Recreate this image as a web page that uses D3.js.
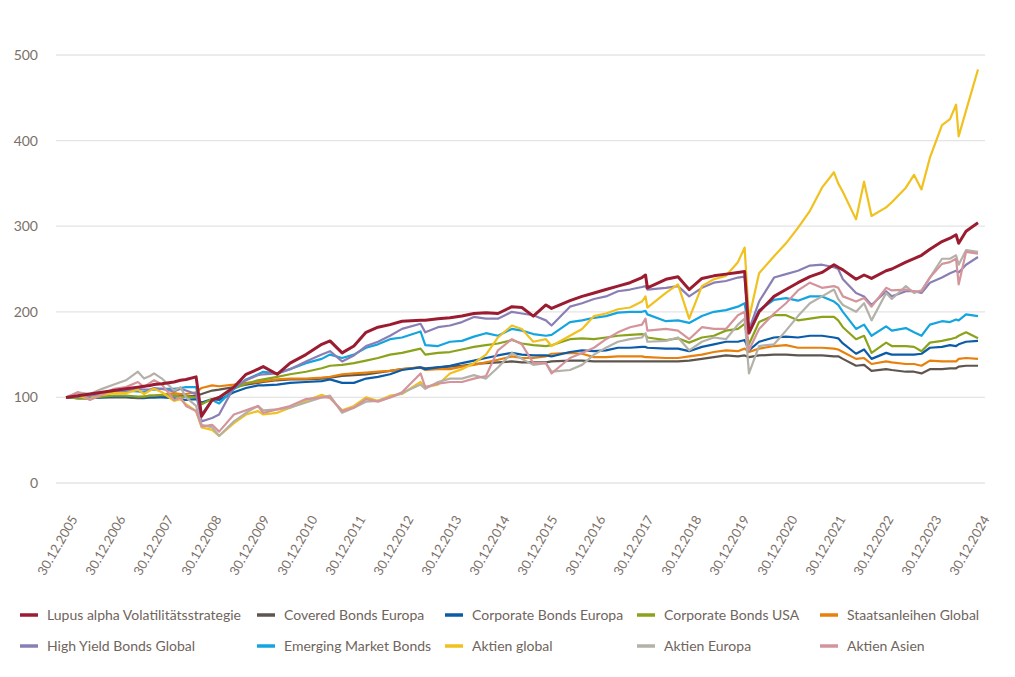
<!DOCTYPE html>
<html><head><meta charset="utf-8">
<script src="https://cdn.jsdelivr.net/npm/d3@7"></script>
<style>
html,body{margin:0;padding:0;background:#fff;}
svg{display:block;font-family:Lato,"Open Sans",sans-serif;}
</style></head>
<body><svg id="c" width="1015" height="677"></svg>
<script>
const dates = ["2005-12-30","2006-03-31","2006-06-30","2006-09-30","2006-12-30","2007-03-31","2007-06-30","2007-08-16","2007-09-30","2007-10-31",
"2007-12-30","2008-03-31","2008-05-19","2008-06-30","2008-09-15","2008-10-27","2009-01-15","2009-03-09","2009-06-30","2009-09-30",
"2009-12-30","2010-02-08","2010-05-25","2010-08-31","2010-12-30","2011-04-29","2011-07-01","2011-10-01","2011-12-30","2012-03-31",
"2012-06-30","2012-09-30","2012-12-30","2013-05-20","2013-06-25","2013-09-30","2013-12-30","2014-03-31","2014-06-30","2014-09-30",
"2014-12-30","2015-04-15","2015-06-30","2015-09-25","2015-12-30","2016-02-11","2016-06-30","2016-09-30","2016-12-30","2017-03-31",
"2017-06-30","2017-09-30","2017-12-30","2018-01-26","2018-02-09","2018-06-30","2018-09-30","2018-12-24","2019-03-31","2019-06-30",
"2019-09-30","2019-12-30","2020-02-19","2020-03-23","2020-06-08","2020-09-30","2020-12-30","2021-03-31","2021-06-30","2021-09-30",
"2021-12-30","2022-01-31","2022-03-08","2022-06-16","2022-08-16","2022-10-12","2023-01-31","2023-03-15","2023-06-30","2023-08-31",
"2023-10-27","2023-12-30","2024-03-31","2024-05-31","2024-07-16","2024-08-05","2024-09-30","2024-12-30"];

const seriesNames = ["Lupus alpha Volatilitätsstrategie","Covered Bonds Europa","Corporate Bonds Europa","Corporate Bonds USA","Staatsanleihen Global","High Yield Bonds Global","Emerging Market Bonds","Aktien global","Aktien Europa","Aktien Asien"];
const seriesColors = ["#9b1c31","#5e554e","#0b5ca8","#8ba31b","#e8800c","#8a7fb4","#14a4df","#f0c11f","#b4b1a9","#d3949c"];

const lupus    = [100,102,104,106,108,110,112,113,114,115, 116,118,120,121,124,78,97,100,112,127, 133,136,127,140,150,162,166,152,160,176, 182,185,189,190,190,192,193,195,198,199, 198,206,205,195,208,204,213,218,222,226, 230,234,240,243,228,238,241,226,239,242, 244,246,247,175,200,218,226,234,241,246, 255,252,249,238,243,239,248,250,258,262, 266,273,282,286,290,280,294,304];
const covered  = [100,99,99,100,100,100,99,99,100,100, 101,102,102,101,102,104,108,109,112,115, 117,118,120,121,121,122,123,125,126,127, 129,131,133,135,134,135,136,137,139,140, 141,142,141,141,141,142,143,143,142,142, 142,142,142,142,142,142,142,143,145,147, 149,148,149,147,149,150,150,149,149,149, 148,148,145,137,138,131,133,132,130,130, 128,133,133,134,134,136,137,137];
const corpEur  = [100,99,99,100,101,101,100,100,100,100, 100,99,98,97,98,94,98,97,106,111, 114,114,115,117,118,119,121,117,117,122, 124,127,132,135,133,135,137,140,143,146, 149,152,150,149,149,148,153,155,154,155, 158,158,159,159,158,157,157,154,159,162, 165,165,167,155,165,170,171,170,172,172, 170,169,163,151,156,145,152,150,150,150, 151,158,159,161,160,162,165,166];
const corpUsa  = [100,99,99,101,102,102,101,101,102,102, 103,102,101,101,100,92,98,100,110,116, 120,121,124,127,130,134,137,138,140,143, 146,150,152,157,150,152,153,156,159,161, 163,167,163,161,160,161,168,169,168,170, 172,173,174,173,170,167,169,164,170,172, 178,180,186,162,188,196,196,190,192,194, 194,190,182,168,172,152,164,160,160,159, 154,164,166,168,170,172,176,169];
const govGlob  = [100,99,99,101,101,101,100,101,102,102, 103,105,104,104,106,111,114,113,115,117, 118,119,121,122,122,123,124,127,128,129, 130,131,133,135,132,133,133,136,138,141, 144,148,146,146,148,151,152,151,147,147, 148,148,148,147,147,146,146,148,150,153, 155,154,157,153,157,160,161,158,158,158, 157,156,153,145,146,139,142,141,139,139, 137,143,142,142,142,145,146,145];
const highYield= [100,101,102,104,106,108,110,109,109,111, 110,107,110,108,104,72,76,80,112,120, 126,127,128,133,142,150,154,142,149,160, 165,172,180,186,176,182,184,188,194,192, 192,200,198,196,190,184,206,210,215,218, 224,226,229,230,226,228,230,218,228,234, 236,240,241,179,212,240,244,248,254,255, 252,250,238,222,218,208,224,218,224,224, 222,234,240,245,248,246,255,264];
const emBonds  = [100,101,102,104,106,108,107,106,109,109, 110,110,111,112,112,80,97,93,110,121, 127,130,128,133,140,145,150,146,150,158, 162,168,170,177,161,160,165,166,171,175, 172,180,178,174,172,173,188,190,193,195, 199,200,200,201,197,189,190,187,195,200, 202,206,210,178,202,214,216,213,218,218, 212,208,200,180,185,172,183,178,181,176, 172,185,189,188,191,190,197,195];
const eqGlobal = [100,102,98,103,105,105,109,104,108,110, 106,96,98,92,84,65,62,55,70,80, 84,80,82,88,96,103,99,85,90,100, 96,102,104,118,112,115,128,133,140,150, 170,184,180,165,168,160,172,180,195,198, 203,205,212,218,205,222,232,192,230,238, 242,258,275,192,245,265,280,298,318,345, 363,350,340,308,352,312,322,328,345,360, 343,380,418,425,442,405,435,483];
const eqEurope = [100,106,104,110,115,120,130,122,125,128, 122,108,112,100,90,68,65,55,72,82, 90,85,86,88,94,100,102,82,88,95, 96,100,105,115,110,118,122,122,126,122, 135,152,145,138,140,130,132,138,150,158, 165,168,170,175,165,166,170,155,165,170, 168,185,192,128,160,162,178,195,210,218, 226,215,208,200,210,190,222,215,230,222, 225,240,262,262,266,255,272,270];
const eqAsia   = [100,106,97,103,110,112,118,112,117,120, 115,97,100,90,84,66,68,60,80,85, 90,82,86,90,98,100,100,84,88,98, 95,100,106,128,112,116,118,118,122,125, 155,168,162,140,140,128,146,152,158,168, 176,182,185,192,178,180,178,168,182,180, 180,196,200,155,180,198,210,225,234,228, 230,228,218,212,216,206,228,225,226,224, 224,240,256,258,262,232,270,268];

const seriesValues = [lupus,covered,corpEur,corpUsa,govGlob,highYield,emBonds,eqGlobal,eqEurope,eqAsia];
const yTicks = [0,100,200,300,400,500];
const xTickLabels = ["30.12.2005","30.12.2006","30.12.2007","30.12.2008","30.12.2009","30.12.2010","30.12.2011","30.12.2012","30.12.2013","30.12.2014","30.12.2015","30.12.2016","30.12.2017","30.12.2018","30.12.2019","30.12.2020","30.12.2021","30.12.2022","30.12.2023","30.12.2024"];

const svg = d3.select("#c");
const parse = d3.timeParse("%Y-%m-%d");
const parseLbl = d3.timeParse("%d.%m.%Y");
const dts = dates.map(parse);

const x = d3.scaleTime().domain([parse("2005-12-30"), parse("2024-12-30")]).range([66, 978]);
const y = d3.scaleLinear().domain([0,500]).range([483,55]);

// grid
svg.append("g").selectAll("line").data(yTicks).join("line")
  .attr("x1",56).attr("x2",985)
  .attr("y1",d=>y(d)).attr("y2",d=>y(d))
  .attr("stroke","#e4e4e4").attr("stroke-width",1.3);

// y labels
svg.append("g").selectAll("text").data(yTicks).join("text")
  .attr("x",38).attr("y",d=>y(d)).attr("dy","0.35em")
  .attr("text-anchor","end").attr("font-size",14).attr("fill","#7b7068")
  .text(d=>d);

// x labels
svg.append("g").selectAll("text").data(xTickLabels).join("text")
  .attr("transform",d=>`translate(${x(parseLbl(d))+12},${519}) rotate(-60)`)
  .attr("text-anchor","end").attr("font-size",13).attr("fill","#7b7068")
  .text(d=>d);

// lines
const line = d3.line().x((d,i)=>x(dts[i])).y(d=>y(d)).curve(d3.curveLinear);
const order = [1,4,2,3,6,5,7,8,9,0];
svg.append("g").selectAll("path").data(order).join("path")
  .attr("d",k=>line(seriesValues[k]))
  .attr("fill","none")
  .attr("stroke",k=>seriesColors[k])
  .attr("stroke-width",k=>k===0?3:2.2)
  .attr("stroke-linejoin","round");

// legend
const colX = [20,257,445,637,820];
const rowY = [615,646];
const lg = svg.append("g").selectAll("g").data(seriesNames).join("g")
  .attr("transform",(d,i)=>`translate(${colX[i%5]},${rowY[Math.floor(i/5)]})`);
lg.append("line").attr("x1",0).attr("x2",18).attr("y1",0).attr("y2",0)
  .attr("stroke",(d,i)=>seriesColors[i]).attr("stroke-width",3.5);
lg.append("text").attr("x",27).attr("y",0).attr("dy","0.35em")
  .attr("font-size",14).attr("fill","#6f655d").text(d=>d);
</script></body></html>
